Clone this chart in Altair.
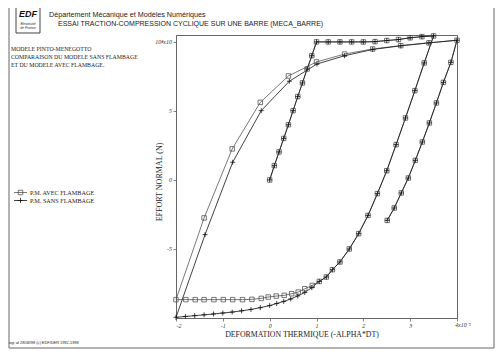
import altair as alt
import pandas as pd

# ---------------- data (x in 1e-3, y in 1e4 N) ----------------
# P.M. AVEC FLAMBAGE (square markers)
avec_x = [0.0, 0.1, 0.2, 0.3, 0.4, 0.5, 0.6, 0.7, 0.8, 0.9, 1.0,
          1.25, 1.5, 1.75, 2.0, 2.25, 2.5, 2.75, 3.0, 3.25, 3.5,
          3.3, 3.1, 2.9, 2.7, 2.5, 2.3, 2.1, 1.9, 1.7, 1.5, 1.34, 1.21, 1.06,
          0.91, 0.75, 0.61, 0.47, 0.31, 0.14, -0.03, -0.18, -0.38, -0.58,
          -0.79, -0.99, -1.19, -1.4, -1.59, -1.79, -2.0,
          -1.4, -0.8, -0.2, 0.4, 1.0, 1.6, 2.2, 2.8, 3.4, 4.0,
          3.87, 3.71, 3.56, 3.41, 3.26, 3.11, 2.96, 2.81, 2.66, 2.51]
avec_y = [0.0, 1.04, 2.03, 3.01, 4.0, 5.02, 6.04, 7.03, 8.04, 9.0, 10.0,
          10.0, 10.0, 10.0, 10.0, 10.02, 10.1, 10.17, 10.3, 10.38, 10.43,
          8.48, 6.47, 4.49, 2.56, 0.67, -0.99, -2.57, -3.89, -5.0, -5.94, -6.5, -7.03, -7.35,
          -7.64, -7.88, -8.12, -8.24, -8.36, -8.41, -8.48, -8.58, -8.65, -8.67,
          -8.67, -8.67, -8.67, -8.67, -8.67, -8.67, -8.67,
          -2.75, 2.25, 5.62, 7.53, 8.55, 9.12, 9.49, 9.73, 9.93, 10.12,
          8.52, 7.07, 5.58, 4.13, 2.75, 1.42, 0.14, -0.94, -2.03, -2.93]

# P.M. SANS FLAMBAGE (plus markers)
sans_x = [0.0, 0.1, 0.2, 0.3, 0.4, 0.5, 0.6, 0.7, 0.8, 0.9, 1.0,
          1.25, 1.5, 1.75, 2.0, 2.25, 2.5, 2.75, 3.0, 3.25, 3.5,
          3.3, 3.1, 2.9, 2.7, 2.5, 2.3, 2.1, 1.9, 1.7, 1.5, 1.34, 1.21, 1.06,
          0.9, 0.75, 0.6, 0.45, 0.3, 0.15, 0.0, -0.2, -0.4, -0.6, -0.8,
          -1.0, -1.2, -1.4, -1.6, -1.8, -2.0,
          -1.38, -0.79, -0.18, 0.42, 1.01, 1.6, 2.2, 2.8, 3.4, 4.0,
          3.87, 3.71, 3.56, 3.41, 3.26, 3.11, 2.96, 2.81, 2.66, 2.51]
sans_y = [0.0, 1.04, 2.03, 3.01, 4.0, 5.02, 6.04, 7.03, 8.04, 9.0, 10.0,
          10.0, 10.0, 10.0, 10.0, 10.02, 10.1, 10.17, 10.3, 10.38, 10.43,
          8.48, 6.47, 4.49, 2.56, 0.67, -0.99, -2.57, -3.89, -5.0, -5.94, -6.5, -7.03, -7.35,
          -7.8, -8.15, -8.4, -8.62, -8.8, -8.95, -9.1, -9.25, -9.38, -9.48, -9.57,
          -9.64, -9.71, -9.77, -9.83, -9.89, -9.95,
          -3.96, 1.28, 5.02, 7.15, 8.4, 9.0, 9.45, 9.72, 9.93, 10.12,
          8.52, 7.07, 5.58, 4.13, 2.75, 1.42, 0.14, -0.94, -2.03, -2.93]

x_ticks = [-2, -1, 0, 1, 2, 3, 4]
y_ticks = [-5, 0, 5, 10]

rows = []
for i, (x, y) in enumerate(zip(avec_x, avec_y)):
    rows.append({"serie": "AVEC", "i": i, "x": x, "y": y})
for i, (x, y) in enumerate(zip(sans_x, sans_y)):
    rows.append({"serie": "SANS", "i": i, "x": x, "y": y})
df = pd.DataFrame(rows)

# ---------------- layout ----------------
X0, Y0 = 176, 35          # plot origin on the page
W, H = 281, 283
one = alt.Data(values=[{"k": 1}])

xs = alt.Scale(domain=[-2, 4], nice=False, zero=False)
ys = alt.Scale(domain=[-10, 10.5], nice=False, zero=False)
X_ENC = alt.X("x:Q", scale=xs, axis=alt.Axis(
    values=x_ticks, title=None,
    labelExpr="datum.value == 4 ? '' : '' + datum.value"))
Y_ENC = alt.Y("y:Q", scale=ys, axis=alt.Axis(
    values=y_ticks, title=None,
    labelExpr="datum.value == 10 ? '10⁴x10' : '' + datum.value"))

PLUS = "M-1,0H1M0,-1V1"
SQ_COL = "#555"
PL_COL = "#111"

lines = alt.Chart(df).mark_line(strokeWidth=0.8).encode(
    x=X_ENC, y=Y_ENC,
    color=alt.Color("serie:N", scale=alt.Scale(domain=["AVEC", "SANS"], range=[SQ_COL, PL_COL]), legend=None),
    detail="serie:N",
    order="i:Q",
)
squares = alt.Chart(df).transform_filter(alt.datum.serie == "AVEC").mark_point(
    shape="square", filled=False, size=20, strokeWidth=0.8, color=SQ_COL, opacity=1
).encode(x=X_ENC, y=Y_ENC)
pluses = alt.Chart(df).transform_filter(alt.datum.serie == "SANS").mark_point(
    shape=PLUS, filled=False, size=25, strokeWidth=0.8, color=PL_COL, opacity=1
).encode(x=X_ENC, y=Y_ENC)


def txt(s, px, py, size, font="Liberation Serif", align="left", style="normal",
        weight="normal", angle=0, color="#222"):
    return alt.Chart(one).mark_text(
        text=s, fontSize=size, font=font, align=align, baseline="middle",
        fontStyle=style, fontWeight=weight, angle=angle, color=color
    ).encode(x=alt.value(px - X0), y=alt.value(py - Y0))


def box(x1, y1, x2, y2, color="#666", w=1):
    return alt.Chart(one).mark_rect(fillOpacity=0, stroke=color, strokeWidth=w).encode(
        x=alt.value(x1 - X0), x2=alt.value(x2 - X0),
        y=alt.value(y1 - Y0), y2=alt.value(y2 - Y0))


def hline(x1, x2, y, color="#444", w=0.8):
    return alt.Chart(one).mark_rule(color=color, strokeWidth=w).encode(
        x=alt.value(x1 - X0), x2=alt.value(x2 - X0), y=alt.value(y - Y0))


def pt(px, py, shape, size, color):
    return alt.Chart(one).mark_point(shape=shape, filled=False, size=size, strokeWidth=0.8,
                                     color=color, opacity=1).encode(
        x=alt.value(px - X0), y=alt.value(py - Y0))


deco = [
    box(9, 5, 494, 348),
    box(16, 7, 40, 33, color="#444"),
    txt("EDF", 28, 14, 9, font="Liberation Sans", align="center", style="italic", weight="bold", color="#111"),
    txt("Electricité", 28, 24, 3.5, font="Liberation Sans", align="center", style="italic"),
    txt("de France", 28, 28, 3.5, font="Liberation Sans", align="center", style="italic"),
    txt("Département Mécanique et Modèles Numériques", 49, 14.5, 7.2, font="Liberation Sans"),
    txt("ESSAI TRACTION-COMPRESSION CYCLIQUE SUR UNE BARRE (MECA_BARRE)", 58, 24, 7.0, font="Liberation Sans"),
    txt("MODELE PINTO-MENEGOTTO", 11, 49.3, 5.8),
    txt("COMPARAISON DU MODELE SANS FLAMBAGE", 11, 57.3, 5.8),
    txt("ET DU MODELE AVEC FLAMBAGE.", 11, 65.3, 5.8),
    hline(14, 27, 192.5, color=SQ_COL),
    pt(20.5, 192.5, "square", 20, SQ_COL),
    txt("P.M. AVEC FLAMBAGE", 30, 192.5, 6.2),
    hline(14, 27, 200.5, color=PL_COL),
    pt(20.5, 200.5, PLUS, 25, PL_COL),
    txt("P.M. SANS FLAMBAGE", 30, 200.5, 6.2),
    txt("ogr af 28/08/98 (c) EDF/DER 1992-1998", 9, 343, 3.9, font="Liberation Sans"),
    txt("DEFORMATION THERMIQUE (-ALPHA*DT)", 302, 335, 7.8, align="center"),
    txt("EFFORT NORMAL (N)", 160, 182, 8, align="center", angle=270),
    txt("4x10⁻³", 455, 324.5, 6, style="italic", color="#333"),
]

chart = alt.layer(lines, squares, pluses, *deco).properties(
    width=W, height=H,
    padding={"left": 168, "top": 27, "right": 38, "bottom": 32},
    autosize=alt.AutoSizeParams(type="none"),
).configure_view(stroke="#666", strokeWidth=1).configure_axis(
    grid=False, domainColor="#666", tickColor="#666", tickSize=3, tickWidth=0.8,
    labelFont="Liberation Serif", labelFontStyle="italic", labelFontSize=6,
    labelColor="#333", labelPadding=1.5, domainWidth=1,
)

chart.save("out.html", embed_options={"renderer": "svg", "actions": False})
